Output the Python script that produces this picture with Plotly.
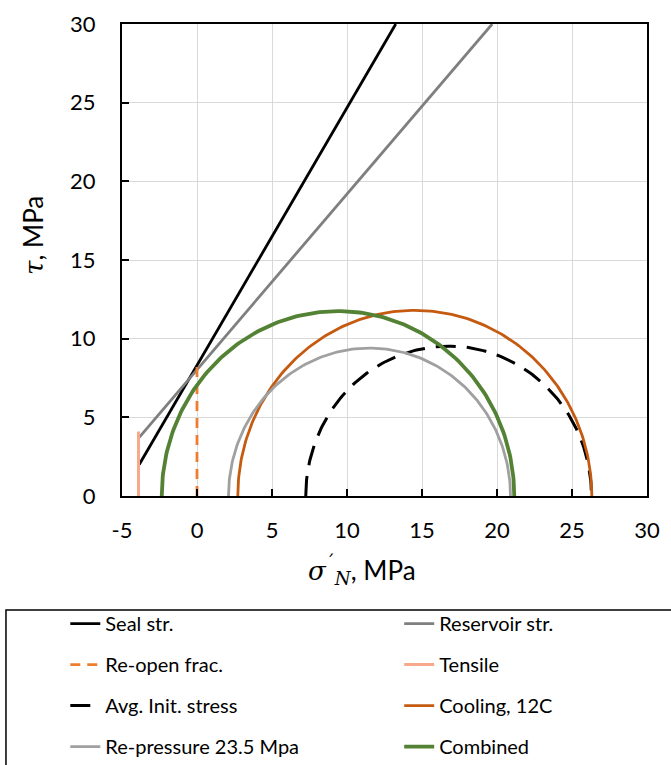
import numpy as np
import plotly.graph_objects as go

# Failure envelopes (sigma_N, tau) end points, MPa
seal_x = [-3.85, 13.25]
seal_y = [2.0, 30.0]
res_x = [-3.85, 19.68]
res_y = [3.73, 30.0]

# Fracture re-opening and tensile limits
reopen_x = [0.0, 0.0]
reopen_y = [0.0, 8.4]
tensile_x = [-3.9, -3.9]
tensile_y = [0.0, 4.1]

# Mohr circles: minimum and maximum effective principal stress, MPa
circle_names = ["Avg. Init. stress", "Cooling, 12C", "Re-pressure 23.5 Mpa", "Combined"]
sigma3 = [7.25, 2.72, 2.1, -2.35]
sigma1 = [26.3, 26.32, 20.9, 21.15]

# Axis ticks
x_ticks = [-5, 0, 5, 10, 15, 20, 25, 30]
x_tick_labels = ["-5", "0", "5", "10", "15", "20", "25", "30"]
y_ticks = [0, 5, 10, 15, 20, 25, 30]
y_tick_labels = ["0", "5", "10", "15", "20", "25", "30"]

FONT = "Lato, 'Liberation Sans', sans-serif"
SERIF = "'DejaVu Serif', 'Liberation Serif', serif"


def mohr(s3, s1, n=181):
    c = 0.5 * (s1 + s3)
    r = 0.5 * (s1 - s3)
    th = np.linspace(np.pi, 0.0, n)
    return c + r * np.cos(th), r * np.sin(th)


fig = go.Figure()

fig.add_trace(go.Scatter(x=seal_x, y=seal_y, mode="lines", name="Seal str.",
                         line=dict(color="#000000", width=2.8),
                         legend="legend", legendgroup="a"))
fig.add_trace(go.Scatter(x=res_x, y=res_y, mode="lines", name="Reservoir str.",
                         line=dict(color="#7F7F7F", width=2.8),
                         legend="legend2", legendgroup="b"))
fig.add_trace(go.Scatter(x=reopen_x, y=reopen_y, mode="lines", name="Re-open frac.",
                         line=dict(color="#ED7D31", width=2.8, dash="10px,7px"),
                         legend="legend", legendgroup="c"))
fig.add_trace(go.Scatter(x=tensile_x, y=tensile_y, mode="lines", name="Tensile",
                         line=dict(color="#F8A98B", width=3),
                         legend="legend2", legendgroup="d"))

circle_style = [
    dict(color="#000000", width=3, dash="20px,11px"),
    dict(color="#C55A11", width=2.8),
    dict(color="#A0A0A0", width=2.8),
    dict(color="#548235", width=3.8),
]
circle_legend = ["legend", "legend2", "legend", "legend2"]
for i, name in enumerate(circle_names):
    cx, cy = mohr(sigma3[i], sigma1[i])
    fig.add_trace(go.Scatter(x=cx, y=cy, mode="lines", name=name,
                             line=circle_style[i], legend=circle_legend[i],
                             legendgroup="e%d" % i))

axis_common = dict(
    showgrid=True, gridcolor="#D9D9D9", gridwidth=1,
    showline=True, linecolor="#000000", linewidth=2, mirror=True,
    ticks="inside", ticklen=7, tickwidth=2, tickcolor="#000000",
    tickfont=dict(family=FONT, size=22, color="#000000"),
    zeroline=False, tickmode="array",
)

legend_common = dict(
    orientation="v", bgcolor="rgba(0,0,0,0)", borderwidth=0,
    font=dict(family=FONT, size=20, color="#000000"),
    tracegroupgap=12, traceorder="grouped",
    xanchor="left", yanchor="top",
)

fig.update_layout(
    width=671, height=765,
    margin=dict(l=122, r=24, t=24, b=269, autoexpand=False),
    paper_bgcolor="#FFFFFF", plot_bgcolor="#FFFFFF",
    xaxis=dict(range=[-5, 30], tickvals=x_ticks, ticktext=x_tick_labels,
               ticklabelstandoff=14, **axis_common),
    yaxis=dict(range=[0, 30], tickvals=y_ticks, ticktext=y_tick_labels,
               ticklabelstandoff=20, **axis_common),
    legend=dict(x=-0.108, y=-0.229, **legend_common),
    legend2=dict(x=0.528, y=-0.229, **legend_common),
    shapes=[dict(type="rect", xref="paper", yref="paper",
                 x0=-0.221, x1=1.06, y0=-0.2415, y1=-0.58,
                 line=dict(color="#000000", width=1.5), fillcolor="rgba(0,0,0,0)",
                 layer="below")],
    annotations=[
        dict(text="<span style=\"font-family:%s\"><i>τ</i></span>, MPa" % SERIF,
             xref="paper", yref="paper", x=-0.1695, y=0.551, textangle=-90,
             xanchor="center", yanchor="middle",
             showarrow=False, font=dict(family=FONT, size=26, color="#000000")),
        dict(text="<span style=\"font-family:%s\"><i>σ</i><sup>´</sup><sub><i>N</i></sub></span>, MPa" % SERIF,
             xref="paper", yref="paper", x=0.457, y=-0.157,
             xanchor="center", yanchor="middle",
             showarrow=False, font=dict(family=FONT, size=26, color="#000000")),
    ],
)

fig.write_html("out.html")
